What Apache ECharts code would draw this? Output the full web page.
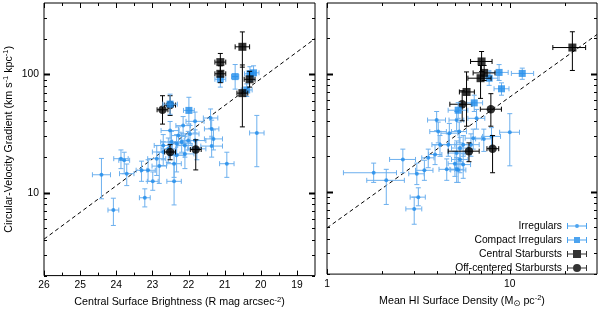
<!DOCTYPE html>
<html><head><meta charset="utf-8">
<script src="https://cdn.jsdelivr.net/npm/echarts@6/dist/echarts.min.js"></script>
<style>html,body{margin:0;padding:0;background:#fff}#c{width:600px;height:313px}</style>
</head><body><div id="c"></div>
<script>
// ---------- tick values ----------
const leftXLabels = [19, 20, 21, 22, 23, 24, 25, 26];
const leftXMinor = [19.5, 20.5, 21.5, 22.5, 23.5, 24.5, 25.5];
const yMajor = [10, 100];
const yMinor = [2, 3, 4, 5, 6, 7, 8, 9, 20, 30, 40, 50, 60, 70, 80, 90, 200, 300];
const rightXMajor = [1, 10];
const rightXMinor = [2, 3, 4, 5, 6, 7, 8, 9, 20];

// ---------- data: [x, y, xLo, xHi, yLo, yHi] ----------
// Left panel: central surface brightness (R mag arcsec^-2)
const irregularsLeft = [
  [22.51, 33.5, 22.26, 22.76, 27, 40], [22.15, 36.9, 21.95, 22.35, 30, 44],
  [21.82, 40.1, 21.57, 22.07, 32, 48], [21.39, 42.8, 21.19, 21.59, 35, 51],
  [21.36, 34.6, 21.16, 21.56, 29, 41], [21.31, 28.5, 21.06, 21.56, 23, 34],
  [21.36, 24.8, 21.06, 21.66, 20, 30], [21.96, 31.4, 21.71, 22.21, 26, 37],
  [22.28, 30.4, 22.08, 22.48, 25, 36], [22.47, 26.8, 22.17, 22.77, 21, 33],
  [22.70, 25.1, 22.45, 22.95, 19, 31], [22.33, 25.9, 22.13, 22.53, 21, 31],
  [22.19, 26.8, 21.94, 22.44, 22, 32], [22.70, 22.1, 22.40, 23.00, 17, 27],
  [22.33, 20.7, 22.13, 22.53, 15, 27], [22.10, 21.3, 21.85, 22.35, 16, 26],
  [21.82, 27.6, 21.52, 22.12, 22, 34], [22.01, 27.6, 21.81, 22.21, 23, 33],
  [21.77, 23.5, 21.52, 22.02, 19, 28], [22.88, 19.4, 22.63, 23.13, 14, 25],
  [22.81, 16.8, 22.61, 23.01, 12, 22], [23.12, 15.5, 22.92, 23.32, 12.5, 19],
  [23.30, 15.5, 23.15, 23.45, 12.5, 18.5], [22.99, 12.5, 22.84, 23.14, 10.5, 15],
  [22.40, 12.5, 22.20, 22.60, 7.9, 17.6], [23.21, 9.08, 23.06, 23.36, 7.6, 10.8],
  [22.40, 17.6, 22.20, 22.60, 13.5, 22], [20.94, 17.6, 20.74, 21.14, 13.5, 22],
  [22.10, 25.1, 21.90, 22.30, 20, 30], [22.56, 23.5, 22.36, 22.76, 18, 29],
  [20.11, 32.0, 19.91, 20.31, 16.6, 45], [24.41, 14.2, 24.16, 24.66, 8.9, 19.5],
  [24.08, 7.15, 23.93, 24.23, 5.3, 9.0], [23.87, 19.4, 23.67, 24.07, 16, 23],
  [23.78, 18.8, 23.63, 23.93, 14.5, 22], [23.71, 14.5, 23.51, 23.91, 11.5, 17.5]
];
const compactLeft = [
  [22.51, 56, 22.31, 22.71, 46, 68], [21.99, 49.6, 21.84, 22.14, 38, 64],
  [21.12, 90.8, 20.97, 21.27, 78, 102], [20.71, 95.7, 20.61, 20.81, 75, 121],
  [20.30, 101, 20.15, 20.45, 87, 116], [20.20, 103, 20.05, 20.35, 90, 118],
  [20.39, 73.8, 20.24, 20.54, 65, 83]
];
const centralLeft = [
  [20.51, 170.7, 20.31, 20.71, 115, 228], [21.12, 126.8, 20.97, 21.27, 105, 150],
  [21.12, 101, 20.97, 21.27, 85, 118], [20.31, 90.8, 20.16, 20.46, 78, 106],
  [20.51, 69.4, 20.36, 20.66, 36, 120]
];
const offcenterLeft = [
  [22.72, 50.2, 22.57, 22.87, 38, 66], [22.51, 55, 22.36, 22.66, 45, 66],
  [22.51, 22.1, 22.36, 22.66, 19, 25.5], [21.80, 23.2, 21.65, 21.95, 15.6, 28]
];
// Right panel: mean HI surface density (Msun pc^-2)
const irregularsRight = [
  [1.80, 14.5, 1.23, 2.40, 12, 17.5], [2.11, 12.5, 1.65, 2.65, 7.8, 15.5],
  [2.60, 18.8, 2.20, 3.05, 14.5, 23], [3.16, 9.0, 2.85, 3.45, 7.6, 10.8],
  [3.00, 7.15, 2.70, 3.30, 5.3, 9.0], [3.10, 14.2, 2.80, 3.40, 11.5, 17.5],
  [3.41, 15.2, 3.05, 3.80, 12.5, 18.5], [3.58, 19.4, 3.30, 3.85, 16, 23],
  [3.90, 20.7, 3.60, 4.25, 17, 25], [4.52, 15.5, 4.10, 5.00, 12.5, 19],
  [5.01, 17.3, 4.60, 5.50, 13.5, 22], [5.12, 15.5, 4.70, 5.60, 12, 19.5],
  [3.98, 40.6, 3.55, 4.45, 33, 48], [4.06, 32.4, 3.65, 4.50, 26, 39],
  [4.67, 31.4, 4.20, 5.20, 25, 38], [5.29, 32.4, 4.80, 5.80, 26, 39],
  [5.12, 40.6, 4.65, 5.60, 33, 48], [4.15, 25.1, 3.75, 4.60, 20, 30],
  [4.61, 25.1, 4.15, 5.10, 20, 31], [5.34, 23.5, 4.80, 5.90, 18, 29],
  [5.56, 25.1, 5.00, 6.10, 20, 30], [6.13, 25.1, 5.50, 6.80, 20, 31],
  [6.31, 28.5, 5.70, 7.00, 23, 34], [6.58, 42.0, 5.90, 7.30, 34, 50],
  [7.21, 28.1, 6.50, 8.00, 22, 34], [5.12, 21.3, 4.60, 5.70, 16, 27],
  [5.34, 18.8, 4.80, 5.90, 14.5, 23], [5.56, 17.0, 5.00, 6.10, 13, 21],
  [5.22, 15.3, 4.75, 5.75, 12, 19], [10.0, 32.0, 8.8, 11.3, 16.6, 46],
  [7.94, 29.5, 7.1, 8.9, 24, 35]
];
const compactRight = [
  [8.74, 103, 7.8, 9.8, 88, 120], [11.7, 101, 10.2, 13.5, 90, 112],
  [7.71, 92, 6.9, 8.6, 80, 106], [9.01, 74.8, 8.2, 9.9, 66, 84],
  [6.39, 56.8, 5.8, 7.1, 48, 66], [5.22, 49.2, 4.6, 5.9, 42, 57]
];
const centralRight = [
  [22.0, 167.5, 17.2, 26.0, 107, 228], [7.01, 127.6, 6.1, 8.0, 105, 155],
  [7.24, 102, 6.3, 8.3, 88, 118], [6.92, 92, 5.9, 7.9, 62, 118],
  [5.80, 70.3, 5.3, 6.4, 36, 104]
];
const offcenterRight = [
  [5.49, 55.3, 4.7, 6.2, 40, 72], [7.88, 50.2, 6.9, 9.0, 36, 68],
  [5.98, 22.1, 4.6, 6.8, 18, 26], [8.05, 23.2, 7.5, 8.7, 14.5, 30]
];
// fitted relations (dashed lines): [x, y] end points
const fitLeft = [[26, 4.06], [18.5, 200]];
const fitRight = [[1, 4.93], [30, 216]];

// ---------- styling ----------
const FONT = 'Liberation Sans, Arial, Helvetica, sans-serif';
const BLUE = '#1f8ceb';
const BLUE_ERR = '#6db0ee';
const BLACK = '#000';

function errRender(color, cap) {
  return function (params, api) {
    const x = api.value(0), y = api.value(1);
    const a = api.coord([api.value(2), y]), b = api.coord([api.value(3), y]);
    const c = api.coord([x, api.value(4)]), d = api.coord([x, api.value(5)]);
    const st = { stroke: color, lineWidth: 1, fill: null };
    const L = (x1, y1, x2, y2) => ({ type: 'line', shape: { x1, y1, x2, y2 }, style: st });
    return { type: 'group', children: [
      L(a[0], a[1], b[0], b[1]), L(a[0], a[1] - cap, a[0], a[1] + cap), L(b[0], b[1] - cap, b[0], b[1] + cap),
      L(c[0], c[1], d[0], d[1]), L(c[0] - cap, c[1], c[0] + cap, c[1]), L(d[0] - cap, d[1], d[0] + cap, d[1])
    ]};
  };
}
function yTickRender(len) {
  return function (params, api) {
    const py = Math.round(api.coord([api.value(0), api.value(1)])[1]) + 0.5;
    const cs = params.coordSys;
    const st = { stroke: '#000', lineWidth: len > 4 ? 2 : 1 };
    return { type: 'group', children: [
      { type: 'line', shape: { x1: cs.x, y1: py, x2: cs.x + len, y2: py }, style: st },
      { type: 'line', shape: { x1: cs.x + cs.width - len, y1: py, x2: cs.x + cs.width, y2: py }, style: st }
    ]};
  };
}
function xTickRender(len) {
  return function (params, api) {
    const px = Math.round(api.coord([api.value(0), api.value(1)])[0]) + 0.5;
    const cs = params.coordSys;
    const st = { stroke: '#000', lineWidth: 1 };
    return { type: 'group', children: [
      { type: 'line', shape: { x1: px, y1: cs.y + cs.height - len, x2: px, y2: cs.y + cs.height }, style: st },
      { type: 'line', shape: { x1: px, y1: cs.y, x2: px, y2: cs.y + len }, style: st }
    ]};
  };
}

const richBase = {
  n: { fontSize: 10.7, lineHeight: 14, fontFamily: FONT, color: '#000' },
  s: { fontSize: 7.5, lineHeight: 8, verticalAlign: 'top', fontFamily: FONT, color: '#000' },
  b: { fontSize: 8.5, lineHeight: 8, verticalAlign: 'bottom', fontFamily: 'DejaVu Sans, ' + FONT, color: '#000' }
};
const labelStyle = { fontSize: 10.3, fontFamily: FONT, color: '#000' };

function panelSeries(ax, irr, comp, cen, off, fit, xRef, yRef, xMajor, xMinor) {
  const base = { xAxisIndex: ax, yAxisIndex: ax };
  return [
    Object.assign({ type: 'custom', silent: true, clip: false, renderItem: yTickRender(3), data: yMinor.map(v => [xRef, v]), z: 1 }, base),
    Object.assign({ type: 'custom', silent: true, clip: false, renderItem: yTickRender(6), data: yMajor.map(v => [xRef, v]), z: 1 }, base),
    Object.assign({ type: 'custom', silent: true, clip: false, renderItem: xTickRender(3), data: xMinor.map(v => [v, yRef]), z: 1 }, base),
    Object.assign({ type: 'custom', silent: true, clip: false, renderItem: xTickRender(5), data: xMajor.map(v => [v, yRef]), z: 1 }, base),
    Object.assign({ type: 'line', data: fit, symbol: 'none', silent: true, lineStyle: { color: '#000', width: 1, type: [4, 3] }, z: 2 }, base),
    Object.assign({ type: 'custom', name: 'e1', renderItem: errRender(BLUE_ERR, 2.5), data: irr, encode: { x: [0, 2, 3], y: [1, 4, 5] }, z: 3 }, base),
    Object.assign({ type: 'scatter', name: 'Irregulars', data: irr, symbol: 'circle', symbolSize: 4, itemStyle: { color: BLUE }, z: 4 }, base),
    Object.assign({ type: 'custom', name: 'e4', renderItem: errRender(BLACK, 2.5), data: off, encode: { x: [0, 2, 3], y: [1, 4, 5] }, z: 5 }, base),
    Object.assign({ type: 'scatter', name: 'Off-centered Starbursts', data: off, symbol: 'circle', symbolSize: 8.5, itemStyle: { color: BLACK }, z: 6 }, base),
    Object.assign({ type: 'custom', name: 'e2', renderItem: errRender(BLUE_ERR, 2.5), data: comp, encode: { x: [0, 2, 3], y: [1, 4, 5] }, z: 7 }, base),
    Object.assign({ type: 'scatter', name: 'Compact Irregulars', data: comp, symbol: 'rect', symbolSize: 7, itemStyle: { color: BLUE }, z: 8 }, base),
    Object.assign({ type: 'custom', name: 'e3', renderItem: errRender(BLACK, 2.5), data: cen, encode: { x: [0, 2, 3], y: [1, 4, 5] }, z: 9 }, base),
    Object.assign({ type: 'scatter', name: 'Central Starbursts', data: cen, symbol: 'rect', symbolSize: 8, itemStyle: { color: BLACK }, z: 10 }, base)
  ];
}

const bars = 'M0,4.5H20V5.5H0Z M0,2H1V8H0Z M19,2H20V8H19Z ';
const option = {
  animation: false,
  backgroundColor: '#fff',
  grid: [
    { left: 44, top: 3, width: 271, height: 275, show: true, borderColor: '#000', borderWidth: 1, backgroundColor: 'transparent' },
    { left: 327, top: 3, width: 270, height: 275, show: true, borderColor: '#000', borderWidth: 1, backgroundColor: 'transparent' }
  ],
  xAxis: [
    { gridIndex: 0, type: 'value', min: 18.5, max: 26, inverse: true,
      axisLine: { show: false }, axisTick: { show: false }, splitLine: { show: false },
      axisLabel: Object.assign({ margin: 5, customValues: leftXLabels }, labelStyle),
      name: '{n|Central Surface Brightness (R mag arcsec}{s|-2}{n|)}',
      nameLocation: 'middle', nameGap: 19, nameTextStyle: { rich: richBase } },
    { gridIndex: 1, type: 'log', min: 1, max: 30,
      axisLine: { show: false }, axisTick: { show: false }, splitLine: { show: false },
      axisLabel: Object.assign({ margin: 5, showMinLabel: true, showMaxLabel: false }, labelStyle),
      name: '{n|Mean HI Surface Density (M}{b|⊙}{n| pc}{s|-2}{n|)}',
      nameLocation: 'middle', nameGap: 19, nameTextStyle: { rich: richBase } }
  ],
  yAxis: [
    { gridIndex: 0, type: 'log', min: 2, max: 400,
      axisLine: { show: false }, axisTick: { show: false }, splitLine: { show: false },
      axisLabel: Object.assign({ margin: 5, showMinLabel: false, showMaxLabel: false }, labelStyle),
      name: '{n|Circular-Velocity Gradient (km s}{s|-1}{n| kpc}{s|-1}{n|)}',
      nameLocation: 'middle', nameGap: 28, nameTextStyle: { rich: richBase } },
    { gridIndex: 1, type: 'log', min: 2, max: 400,
      axisLine: { show: false }, axisTick: { show: false }, splitLine: { show: false },
      axisLabel: { show: false } }
  ],
  legend: {
    orient: 'vertical', right: 13, bottom: 40, align: 'right', padding: 0,
    itemWidth: 20, itemHeight: 8, itemGap: 4, selectedMode: false,
    textStyle: { fontSize: 10.3, fontFamily: FONT, color: '#000' },
    data: [
      { name: 'Irregulars', icon: 'path://' + bars + 'M12,5A2,2 0 1 1 8,5A2,2 0 1 1 12,5Z', itemStyle: { color: BLUE } },
      { name: 'Compact Irregulars', icon: 'path://' + bars + 'M7,2H13V8H7Z', itemStyle: { color: BLUE } },
      { name: 'Central Starbursts', icon: 'path://' + bars + 'M6,1H14V9H6Z', itemStyle: { color: BLACK } },
      { name: 'Off-centered Starbursts', icon: 'path://' + bars + 'M14,5A4,4 0 1 1 6,5A4,4 0 1 1 14,5Z', itemStyle: { color: BLACK } }
    ]
  },
  series: [].concat(
    panelSeries(0, irregularsLeft, compactLeft, centralLeft, offcenterLeft, fitLeft, 22, 10, leftXLabels, leftXMinor),
    panelSeries(1, irregularsRight, compactRight, centralRight, offcenterRight, fitRight, 5, 10, rightXMajor, rightXMinor)
  )
};
const chart = echarts.init(document.getElementById('c'), null, { renderer: 'canvas' });
chart.setOption(option);
</script></body></html>
